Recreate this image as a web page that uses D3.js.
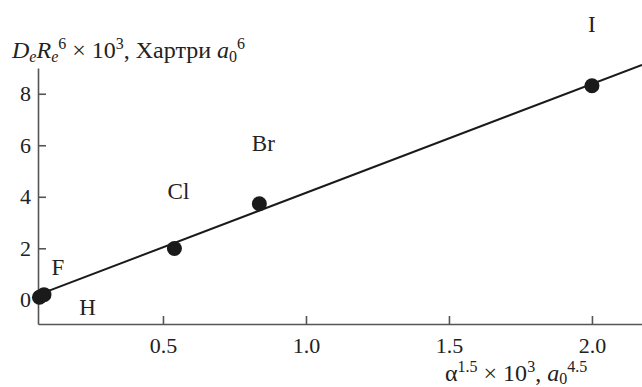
<!DOCTYPE html>
<html lang="ru">
<head>
  <meta charset="UTF-8">
  <title>DeRe6 vs alpha^1.5</title>
  <script src="https://d3js.org/d3.v7.min.js"></script>
  <style>
    body { margin: 0; background: #fff; }
  </style>
</head>
<body>
<div id="chart"></div>
<script>
  var serif = "'Liberation Serif', 'Times New Roman', serif";

  // data
  var atoms = ["H", "F", "Cl", "Br", "I"];
  var alphaVals = [0.068, 0.084, 0.54, 0.837, 2.0];   // alpha^1.5 x 10^3
  var deReVals = [0.10, 0.20, 1.99, 3.73, 8.31];      // DeRe^6 x 10^3

  // where each atom name sits (in data units)
  var labelX = [0.236, 0.133, 0.554, 0.851, 2.0];
  var labelY = [-0.59, 0.96, 3.9, 5.76, 10.4];

  // fitted straight line, two ends
  var fitX = [0.063, 2.175];
  var fitY = [0.19, 9.12];

  var xTicks = [0.5, 1.0, 1.5, 2.0];
  var yTicks = [0, 2, 4, 6, 8];

  var width = 642, height = 387;

  var svg = d3.select("#chart").append("svg")
    .attr("width", width)
    .attr("height", height)
    .attr("font-family", serif);

  var x = d3.scaleLinear().domain([0.063, 2.175]).range([38, 642]);
  var y = d3.scaleLinear().domain([-0.94, 9]).range([324, 68]);

  // x axis, ticks pointing inward
  var xAxis = svg.append("g")
    .attr("transform", "translate(0," + y(-0.94) + ")")
    .call(d3.axisBottom(x).tickValues(xTicks).tickFormat(d3.format(".1f"))
      .tickSize(-8).tickSizeOuter(0).tickPadding(13));

  var yAxis = svg.append("g")
    .attr("transform", "translate(" + x(0.063) + ",0)")
    .call(d3.axisLeft(y).tickValues(yTicks).tickFormat(d3.format("d"))
      .tickSize(-8).tickSizeOuter(0).tickPadding(7));

  [xAxis, yAxis].forEach(function(g) {
    g.attr("font-family", serif).attr("font-size", 22);
    g.selectAll("path, line").attr("stroke", "#555").attr("stroke-width", 1.6);
    g.selectAll("text").attr("fill", "#222");
  });

  // fit line
  svg.append("path")
    .datum(d3.zip(fitX, fitY))
    .attr("fill", "none")
    .attr("stroke", "#1a1a1a")
    .attr("stroke-width", 2)
    .attr("d", d3.line()
      .x(function(d) { return x(d[0]); })
      .y(function(d) { return y(d[1]); }));

  // points
  svg.selectAll(".pt")
    .data(d3.zip(alphaVals, deReVals))
    .enter().append("circle")
    .attr("class", "pt")
    .attr("cx", function(d) { return x(d[0]); })
    .attr("cy", function(d) { return y(d[1]); })
    .attr("r", 7.5)
    .attr("fill", "#1a1a1a");

  // atom names
  svg.selectAll(".lbl")
    .data(atoms)
    .enter().append("text")
    .attr("class", "lbl")
    .attr("x", function(d, i) { return x(labelX[i]); })
    .attr("y", function(d, i) { return y(labelY[i]); })
    .attr("text-anchor", "middle")
    .attr("fill", "#222")
    .style("font-size", "23px")
    .text(function(d) { return d; });

  // rich text helper: parts = [text, italic, shift] (shift > 0 = down)
  function richText(px, py, parts) {
    var t = svg.append("text").attr("x", px).attr("y", py)
      .attr("fill", "#222").style("font-size", "24px");
    var cur = 0;
    parts.forEach(function(p) {
      var shift = p[2] || 0;
      t.append("tspan")
        .attr("dy", shift - cur)
        .style("font-style", p[1] ? "italic" : "normal")
        .style("font-size", shift !== 0 ? "16px" : "24px")
        .text(p[0]);
      cur = shift;
    });
    return t;
  }

  // y axis title
  richText(12, 58, [
    ["D", true, 0], ["e", true, 4], ["R", true, 0], ["e", true, 4], ["6", false, -9],
    [" \u00d7 10", false, 0], ["3", false, -9], [", Хартри ", false, 0],
    ["a", true, 0], ["0", false, 4], ["6", false, -9]
  ]);

  // x axis title
  richText(445, 381, [
    ["\u03b1", false, 0], ["1.5", false, -9], [" \u00d7 10", false, 0], ["3", false, -9],
    [", ", false, 0], ["a", true, 0], ["0", false, 3], ["4.5", false, -9]
  ]);
</script>
</body>
</html>
